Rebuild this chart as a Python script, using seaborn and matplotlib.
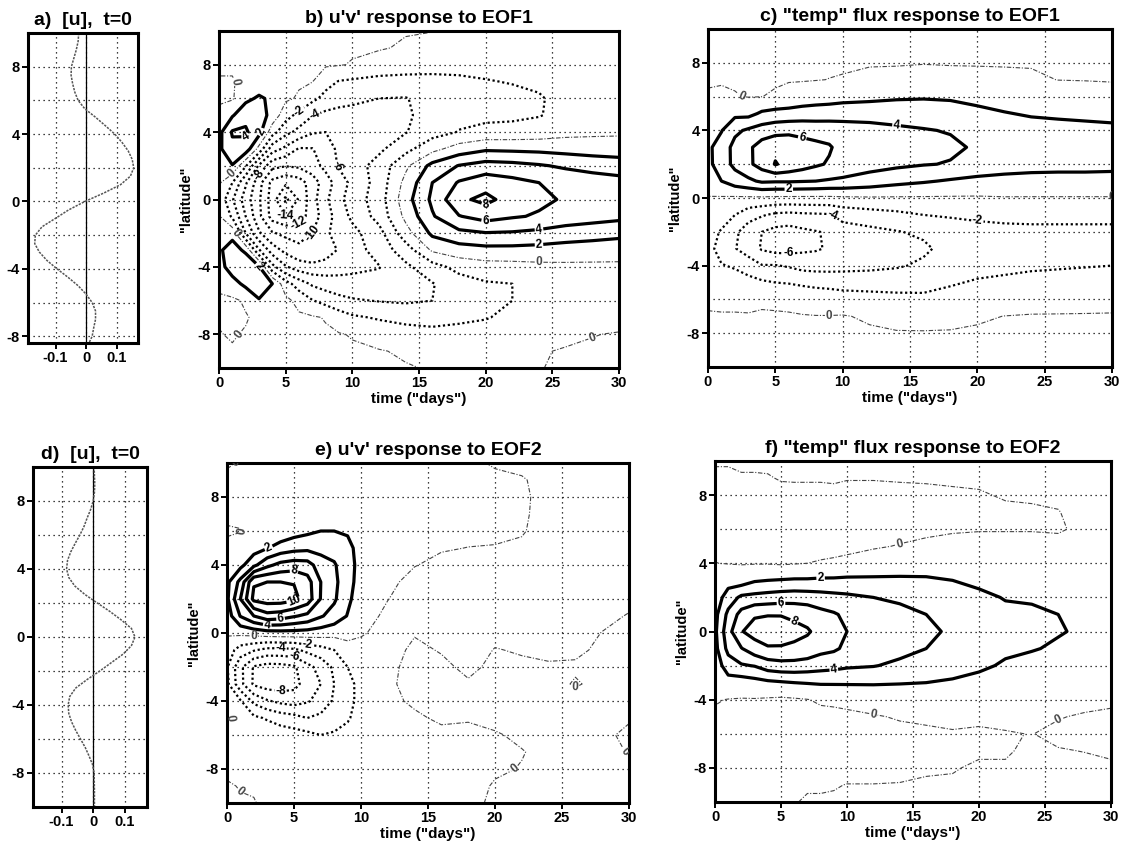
import numpy as np
import matplotlib
matplotlib.use("Agg")
import matplotlib.pyplot as plt
import seaborn as sns

sns.set_theme(style="white")
plt.rcParams["font.family"] = ["Liberation Sans", "DejaVu Sans"]
plt.rcParams["axes.unicode_minus"] = False
plt.rcParams.update({"text.color": "black", "axes.labelcolor": "black",
                     "xtick.color": "black", "ytick.color": "black"})

# ---------------------------------------------------------------- grids
# latitude rows (top to bottom) and time columns ("days") of every field
LAT = [10, 9, 8, 7, 6, 5, 4, 3, 2, 1, 0, -1, -2, -3, -4, -5, -6, -7, -8, -9, -10]
DAYS = [0, 1, 2, 3, 4, 5, 6, 7, 8, 9, 10, 12, 14, 16, 18, 20, 22, 24, 26, 28, 30]

# b) u'v' response to EOF1 -- one row per latitude, one value per day in DAYS
UV_EOF1_ROWS = [
    [0.2, 0.2, 0.2, 0.2, 0.2, 0.2, 0.2, 0.2, 0.2, 0.2, 0.2, 0.15, 0.1, 0.05, -0.3, -0.6, -0.7, -0.7, -0.7, -0.7, -0.7],
    [0.2, 0.2, 0.2, 0.3, 0.3, 0.3, 0.3, 0.3, 0.3, 0.2, 0.2, 0.15, -0.2, -0.8, -1.0, -1.0, -1.0, -0.9, -0.9, -0.8, -0.8],
    [0.2, 0.2, 0.3, 0.4, 0.4, 0.4, 0.3, 0.3, 0.2, 0.1, -0.1, -0.8, -1.3, -1.5, -1.5, -1.4, -1.3, -1.2, -1.1, -1.0, -0.9],
    [-0.1, -0.1, 0.4, 0.7, 0.6, 0.4, 0.2, 0.05, -1.3, -2.1, -2.3, -2.6, -2.5, -2.4, -2.3, -2.1, -1.9, -1.6, -1.2, -1.1, -1.0],
    [-0.3, -0.2, 1.5, 2.3, 1.6, 0.3, -0.2, -1.5, -2.6, -3.2, -3.6, -4.0, -4.1, -3.2, -2.7, -2.6, -2.5, -2.2, -1.3, -1.1, -1.0],
    [0.5, 1.8, 3.4, 3.0, 1.3, -1.2, -2.6, -3.9, -4.5, -4.7, -4.6, -4.4, -4.3, -3.2, -2.6, -2.5, -2.4, -2.1, -1.4, -1.1, -1.0],
    [1.4, 4.2, 4.3, 2.7, -1.2, -3.4, -4.6, -5.8, -6.0, -5.0, -4.6, -4.5, -4.1, -2.8, -1.9, -1.4, -1.3, -1.1, -0.6, -0.4, -0.3],
    [1.6, 3.5, 3.2, -0.7, -5.1, -6.5, -8.2, -8.1, -6.9, -5.6, -5.2, -4.4, -2.6, -0.6, 0.9, 1.7, 1.6, 1.5, 1.3, 1.1, 1.0],
    [0.8, 1.9, -1.8, -6.3, -9.4, -9.9, -9.6, -8.9, -7.4, -5.8, -5.0, -3.2, -0.4, 2.6, 4.1, 4.8, 4.6, 4.2, 3.7, 3.3, 3.0],
    [0.3, -2.0, -5.7, -9.3, -12.6, -13.6, -13.0, -11.0, -9.0, -7.0, -5.5, -3.2, 0.6, 4.0, 6.2, 7.2, 6.6, 6.0, 5.4, 5.0, 4.7],
    [-0.5, -3.8, -7.0, -9.7, -13.0, -16.5, -13.8, -10.8, -8.4, -6.5, -5.1, -3.0, 1.2, 4.4, 7.6, 8.5, 7.2, 6.4, 5.8, 5.4, 5.1],
    [0.2, -2.3, -6.0, -9.5, -12.8, -13.8, -13.0, -11.0, -9.0, -7.0, -5.6, -3.3, 0.5, 3.8, 5.9, 6.8, 6.2, 5.8, 5.1, 4.8, 4.5],
    [0.8, 1.2, -4.0, -7.7, -9.8, -10.5, -10.6, -10.0, -8.3, -7.3, -6.6, -4.7, -0.8, 2.4, 3.5, 3.9, 3.8, 3.5, 3.1, 2.8, 2.5],
    [1.6, 3.1, 1.5, -3.8, -7.0, -8.6, -9.6, -9.9, -9.0, -7.8, -7.0, -5.1, -3.0, 0.3, 1.1, 1.4, 1.4, 1.3, 1.1, 1.0, 0.9],
    [1.2, 3.0, 4.0, 2.2, -3.4, -5.8, -7.0, -7.4, -7.2, -6.8, -6.5, -6.1, -4.4, -2.8, -1.3, -0.8, -0.7, -0.5, -0.4, -0.4, -0.4],
    [0.4, 1.2, 2.5, 2.8, 2.0, -1.2, -3.0, -4.3, -4.9, -5.2, -5.3, -5.2, -4.7, -4.1, -3.0, -2.2, -2.0, -1.2, -0.7, -0.6, -0.5],
    [-0.3, -0.3, 0.2, 1.9, 1.8, 0.5, -0.6, -1.9, -2.7, -3.4, -3.8, -4.1, -4.3, -4.0, -2.8, -2.4, -2.0, -1.3, -0.8, -0.7, -0.6],
    [-0.1, -0.3, -0.1, 0.3, 0.5, 0.5, 0.3, 0.2, -0.1, -1.0, -1.7, -2.2, -2.5, -2.5, -2.3, -2.1, -1.6, -1.1, -0.8, -0.7, -0.6],
    [0.05, -0.1, 0.1, 0.3, 0.4, 0.4, 0.4, 0.3, 0.2, 0.1, -0.1, -0.8, -1.3, -1.6, -1.5, -1.3, -1.0, -0.6, -0.3, -0.05, 0.1],
    [0.1, 0.1, 0.2, 0.3, 0.3, 0.3, 0.3, 0.3, 0.3, 0.3, 0.2, 0.1, -0.2, -0.7, -0.8, -0.7, -0.5, -0.1, 0.1, 0.2, 0.3],
    [0.1, 0.1, 0.1, 0.2, 0.2, 0.2, 0.2, 0.2, 0.2, 0.2, 0.2, 0.2, 0.1, -0.1, -0.4, -0.4, -0.3, -0.05, 0.2, 0.3, 0.3],
]

# c) "temp" flux response to EOF1 -- one column per day, latitudes 10 .. -10
TEMP_EOF1_COLS = [
    [-0.3, -0.3, -0.2, -0.1, 0.1, 0.5, 1.1, 1.6, 1.5, 0.9, -0.1, -0.6, -1.1, -1.4, -1.2, -0.8, -0.2, 0.1, 0.2, 0.2, 0.2],
    [-0.3, -0.3, -0.2, -0.1, 0.2, 1.1, 1.9, 2.9, 3.0, 2.0, -0.2, -1.0, -2.2, -2.7, -1.9, -1.0, -0.3, 0.1, 0.2, 0.2, 0.2],
    [-0.3, -0.3, -0.2, -0.1, 0.05, 1.5, 3.6, 4.6, 4.5, 3.0, -0.3, -2.0, -3.6, -3.9, -2.2, -1.2, -0.3, 0.1, 0.2, 0.2, 0.2],
    [-0.4, -0.4, -0.3, -0.2, -0.05, 1.4, 4.3, 5.6, 5.6, 3.6, -0.3, -3.2, -5.0, -4.9, -3.0, -1.3, -0.4, 0.1, 0.2, 0.2, 0.2],
    [-0.4, -0.4, -0.3, -0.2, -0.02, 2.3, 4.9, 6.9, 6.8, 4.3, -0.3, -3.8, -6.0, -6.2, -3.9, -1.7, -0.3, 0.2, 0.3, 0.3, 0.2],
    [-0.4, -0.4, -0.3, -0.2, 0.2, 2.6, 5.3, 7.6, 8.1, 4.2, -0.4, -4.4, -6.6, -6.7, -3.9, -2.0, -0.4, 0.2, 0.3, 0.3, 0.2],
    [-0.4, -0.4, -0.3, -0.1, 0.5, 2.7, 5.5, 7.4, 7.5, 4.2, -0.4, -4.6, -6.8, -6.7, -4.2, -2.1, -0.6, 0.2, 0.3, 0.3, 0.2],
    [-0.4, -0.3, -0.2, -0.1, 0.8, 2.9, 5.4, 6.8, 6.9, 4.1, -0.4, -4.4, -6.4, -6.4, -4.7, -2.3, -0.8, 0.1, 0.3, 0.3, 0.2],
    [-0.3, -0.3, -0.2, -0.05, 1.0, 3.0, 5.2, 6.5, 6.3, 4.0, -0.4, -4.3, -6.1, -6.2, -4.8, -2.5, -0.9, 0.05, 0.3, 0.3, 0.2],
    [-0.3, -0.3, -0.2, 0.02, 1.1, 3.1, 5.1, 6.2, 5.8, 3.8, -0.4, -4.2, -5.8, -5.8, -4.8, -2.6, -1.0, 0.05, 0.3, 0.3, 0.2],
    [-0.3, -0.3, -0.2, 0.1, 1.3, 3.2, 4.9, 5.3, 5.1, 3.7, -0.3, -3.4, -4.8, -5.0, -4.7, -2.7, -1.2, 0.1, 0.3, 0.3, 0.2],
    [-0.3, -0.3, -0.1, 0.3, 1.5, 3.2, 4.7, 5.0, 4.7, 3.2, -0.2, -2.9, -4.5, -4.8, -4.5, -2.8, -1.3, -0.2, 0.2, 0.3, 0.2],
    [-0.2, -0.2, -0.1, 0.4, 1.7, 3.3, 4.3, 4.7, 4.4, 2.6, -0.2, -2.5, -4.1, -4.6, -4.2, -2.9, -1.4, -0.5, 0.1, 0.2, 0.2],
    [-0.2, -0.2, -0.05, 0.5, 1.8, 3.2, 4.1, 4.5, 4.1, 2.2, -0.2, -2.0, -3.7, -4.3, -3.7, -2.8, -1.5, -0.6, 0.1, 0.2, 0.2],
    [-0.2, -0.2, -0.1, 0.5, 1.7, 3.0, 3.9, 4.3, 3.9, 1.8, -0.2, -1.8, -3.0, -3.4, -3.1, -2.2, -1.3, -0.4, 0.1, 0.2, 0.2],
    [-0.2, -0.2, -0.1, 0.4, 1.4, 2.5, 3.4, 3.8, 3.3, 1.5, -0.2, -1.6, -2.7, -3.0, -2.7, -1.8, -1.0, -0.2, 0.2, 0.2, 0.2],
    [-0.2, -0.2, -0.1, 0.3, 1.1, 2.1, 3.1, 3.5, 3.0, 1.3, -0.1, -1.5, -2.5, -2.8, -2.5, -1.6, -0.9, 0.02, 0.2, 0.2, 0.2],
    [-0.2, -0.2, -0.1, 0.2, 0.9, 1.8, 2.8, 3.2, 2.8, 1.2, -0.1, -1.5, -2.4, -2.7, -2.3, -1.4, -0.7, 0.1, 0.2, 0.2, 0.2],
    [-0.2, -0.2, -0.2, -0.02, 0.8, 1.7, 2.6, 3.0, 2.7, 1.2, -0.1, -1.5, -2.4, -2.6, -2.2, -1.3, -0.6, 0.1, 0.2, 0.2, 0.2],
    [-0.2, -0.2, -0.2, -0.05, 0.7, 1.6, 2.5, 3.0, 2.7, 1.2, -0.1, -1.5, -2.4, -2.6, -2.1, -1.2, -0.5, 0.1, 0.2, 0.2, 0.2],
    [-0.2, -0.2, -0.2, -0.1, 0.6, 1.5, 2.4, 2.9, 2.6, 1.2, -0.1, -1.5, -2.4, -2.5, -2.0, -1.1, -0.4, 0.1, 0.2, 0.2, 0.2],
]

# e) u'v' response to EOF2 -- one column per day, latitudes 10 .. -10
UV_EOF2_COLS = [
    [-0.1, 0.2, 0.3, 0.2, -0.1, 0.2, 0.7, 1.5, 1.6, 0.9, 0.2, -0.9, -1.8, -1.5, -0.4, 0.1, -0.2, -0.3, -0.2, 0.1, 0.2],
    [0.05, 0.3, 0.4, 0.3, -0.05, 0.6, 1.4, 4.6, 6.0, 4.1, 0.5, -2.9, -5.5, -5.4, -1.8, -0.3, -0.4, -0.4, -0.3, -0.05, 0.1],
    [0.3, 0.4, 0.4, 0.4, 0.4, 1.1, 3.5, 9.8, 10.5, 6.0, 0.8, -3.8, -8.2, -8.3, -4.5, -1.6, -0.5, -0.5, -0.4, -0.1, 0.05],
    [0.3, 0.4, 0.4, 0.4, 0.5, 1.9, 5.5, 10.0, 11.0, 7.3, 1.2, -4.6, -8.8, -9.0, -5.8, -2.2, -0.7, -0.5, -0.5, -0.3, -0.2],
    [0.3, 0.4, 0.4, 0.5, 0.6, 2.8, 6.6, 10.0, 11.0, 7.0, 1.3, -4.6, -8.7, -9.1, -6.5, -2.9, -0.9, -0.5, -0.5, -0.4, -0.3],
    [0.3, 0.4, 0.4, 0.5, 1.2, 3.3, 7.0, 9.9, 10.5, 6.2, 1.3, -4.4, -8.3, -8.6, -6.9, -3.3, -1.2, -0.6, -0.5, -0.4, -0.3],
    [0.3, 0.4, 0.5, 0.6, 1.6, 3.5, 6.8, 8.8, 9.1, 5.5, 1.2, -3.5, -6.6, -7.2, -6.2, -4.0, -1.5, -0.7, -0.5, -0.4, -0.3],
    [0.3, 0.4, 0.5, 0.7, 2.0, 3.3, 5.0, 6.0, 5.9, 4.2, 1.0, -2.8, -5.3, -6.0, -5.3, -3.5, -2.0, -0.8, -0.5, -0.4, -0.3],
    [0.3, 0.4, 0.5, 0.8, 2.0, 3.2, 4.2, 4.5, 4.3, 3.2, 0.7, -2.0, -3.6, -4.0, -3.7, -2.8, -1.8, -0.8, -0.5, -0.4, -0.3],
    [0.3, 0.4, 0.5, 0.8, 1.8, 2.5, 2.8, 2.7, 2.4, 1.9, 0.6, -0.7, -2.0, -2.7, -2.7, -2.2, -1.4, -0.8, -0.5, -0.4, -0.3],
    [0.3, 0.4, 0.5, 0.8, 1.1, 1.3, 1.3, 1.2, 1.0, 0.6, 0.15, -0.5, -1.0, -1.3, -1.3, -1.2, -0.9, -0.6, -0.5, -0.4, -0.3],
    [0.3, 0.4, 0.5, 0.6, 0.6, 0.6, 0.5, 0.3, 0.03, -0.3, -0.5, -0.6, -0.3, -0.2, -0.3, -0.6, -0.5, -0.5, -0.4, -0.4, -0.3],
    [0.3, 0.4, 0.5, 0.5, 0.5, 0.4, 0.05, -0.4, -0.6, -0.5, -0.1, 0.3, 0.4, 0.4, 0.2, -0.2, -0.5, -0.5, -0.4, -0.4, -0.3],
    [0.3, 0.4, 0.5, 0.5, 0.4, 0.1, -0.3, -0.6, -0.6, -0.5, -0.4, -0.1, 0.3, 0.4, 0.4, 0.2, -0.3, -0.5, -0.5, -0.4, -0.3],
    [0.2, 0.3, 0.4, 0.4, 0.3, -0.02, -0.4, -0.6, -0.6, -0.5, -0.5, -0.5, -0.3, 0.15, 0.3, 0.1, -0.3, -0.5, -0.5, -0.4, -0.3],
    [-0.1, 0.2, 0.3, 0.3, 0.2, -0.05, -0.4, -0.6, -0.6, -0.5, -0.3, 0.05, 0.3, 0.4, 0.4, 0.3, -0.1, -0.3, -0.15, 0.1, 0.2],
    [-0.3, 0.1, 0.2, 0.2, 0.1, -0.2, -0.5, -0.6, -0.6, -0.5, -0.3, -0.1, 0.2, 0.4, 0.4, 0.4, 0.2, -0.05, 0.05, 0.2, 0.3],
    [-0.4, -0.4, -0.4, -0.5, -0.5, -0.5, -0.6, -0.6, -0.5, -0.4, -0.3, -0.2, 0.1, 0.4, 0.4, 0.4, 0.4, 0.3, 0.3, 0.3, 0.3],
    [-0.4, -0.4, -0.5, -0.5, -0.5, -0.5, -0.5, -0.5, -0.5, -0.4, -0.3, -0.2, 0.15, -0.1, 0.4, 0.4, 0.4, 0.3, 0.3, 0.3, 0.3],
    [-0.4, -0.4, -0.4, -0.5, -0.5, -0.5, -0.5, -0.4, -0.3, -0.2, 0.02, 0.2, 0.3, 0.3, 0.3, 0.3, 0.2, 0.3, 0.3, 0.3, 0.3],
    [-0.4, -0.4, -0.4, -0.4, -0.4, -0.4, -0.4, -0.3, -0.2, 0.05, 0.2, 0.3, 0.3, 0.3, 0.3, 0.1, -0.2, -0.05, 0.2, 0.3, 0.3],
]

# f) "temp" flux response to EOF2 -- one column per day, latitudes 10 .. -10
TEMP_EOF2_COLS = [
    [0.1, -0.2, -0.3, -0.3, -0.3, -0.2, 0.02, 0.4, 0.9, 1.4, 1.6, 1.4, 0.9, 0.5, 0.1, -0.2, -0.3, -0.3, -0.3, -0.2, -0.2],
    [0.1, -0.2, -0.3, -0.3, -0.3, -0.2, -0.05, 1.2, 2.9, 4.5, 5.3, 4.6, 3.0, 1.2, -0.05, -0.2, -0.3, -0.3, -0.3, -0.2, -0.2],
    [0.2, -0.1, -0.3, -0.3, -0.3, -0.2, -0.1, 1.0, 4.4, 6.7, 7.9, 5.9, 3.8, 1.0, -0.1, -0.3, -0.3, -0.3, -0.3, -0.2, -0.2],
    [0.2, -0.1, -0.3, -0.3, -0.3, -0.2, -0.1, 1.8, 4.6, 7.8, 8.7, 7.2, 4.1, 1.3, -0.1, -0.3, -0.3, -0.3, -0.3, -0.3, -0.2],
    [0.3, -0.1, -0.4, -0.4, -0.4, -0.3, -0.1, 2.0, 4.8, 7.9, 9.1, 7.8, 5.0, 1.6, -0.2, -0.4, -0.4, -0.3, -0.3, -0.3, -0.2],
    [0.3, 0.1, -0.4, -0.5, -0.5, -0.4, -0.2, 2.1, 5.0, 7.9, 9.0, 7.8, 5.3, 1.8, -0.3, -0.4, -0.4, -0.4, -0.3, -0.3, -0.2],
    [0.3, 0.1, -0.3, -0.5, -0.5, -0.4, -0.1, 2.2, 5.1, 7.6, 8.6, 7.6, 5.3, 2.0, -0.2, -0.4, -0.4, -0.4, -0.3, -0.2, -0.05],
    [0.3, 0.1, -0.3, -0.5, -0.5, -0.4, 0.0, 2.2, 5.0, 7.3, 8.2, 7.3, 5.1, 2.1, -0.05, -0.4, -0.5, -0.4, -0.3, -0.1, 0.1],
    [0.3, 0.1, -0.3, -0.5, -0.5, -0.4, 0.1, 2.3, 4.8, 6.6, 7.4, 6.6, 4.8, 2.2, 0.2, -0.4, -0.5, -0.5, -0.3, -0.1, 0.1],
    [0.3, 0.1, -0.2, -0.5, -0.5, -0.4, 0.2, 2.3, 4.6, 6.2, 6.8, 6.3, 4.6, 2.2, 0.3, -0.4, -0.5, -0.5, -0.3, -0.05, 0.1],
    [0.3, 0.05, -0.3, -0.5, -0.5, -0.3, 0.3, 2.4, 4.4, 5.6, 6.0, 5.6, 4.3, 2.2, 0.4, -0.3, -0.5, -0.5, -0.3, 0.02, 0.2],
    [0.3, 0.05, -0.3, -0.4, -0.4, -0.1, 0.5, 2.4, 4.0, 5.0, 5.3, 5.0, 4.1, 2.2, 0.6, -0.1, -0.4, -0.4, -0.3, 0.02, 0.2],
    [0.3, 0.1, -0.3, -0.4, -0.3, 0.05, 0.7, 2.4, 3.7, 4.5, 4.9, 4.6, 3.6, 2.1, 0.8, 0.1, -0.3, -0.4, -0.3, 0.05, 0.2],
    [0.3, 0.1, -0.2, -0.3, -0.2, 0.2, 0.9, 2.3, 3.4, 4.0, 4.4, 4.0, 3.2, 2.0, 0.9, 0.2, -0.2, -0.3, -0.1, 0.1, 0.2],
    [0.3, 0.1, -0.1, -0.3, -0.1, 0.3, 0.9, 2.0, 3.0, 3.5, 3.7, 3.4, 2.7, 1.8, 0.9, 0.3, -0.1, -0.3, -0.05, 0.1, 0.2],
    [0.3, 0.1, -0.05, -0.2, -0.05, 0.3, 0.8, 1.6, 2.4, 3.0, 3.3, 3.0, 2.3, 1.5, 0.8, 0.2, -0.15, -0.1, 0.1, 0.2, 0.2],
    [0.3, 0.2, 0.05, -0.1, -0.05, 0.3, 0.7, 1.3, 1.9, 2.4, 2.6, 2.3, 1.8, 1.2, 0.6, 0.2, -0.05, -0.05, 0.05, 0.2, 0.2],
    [0.3, 0.2, 0.1, -0.1, -0.05, 0.3, 0.6, 1.1, 1.8, 2.3, 2.4, 2.1, 1.5, 1.0, 0.5, 0.2, 0.02, 0.1, 0.2, 0.2, 0.2],
    [0.3, 0.2, 0.1, -0.02, -0.1, 0.3, 0.5, 0.9, 1.5, 2.0, 2.1, 1.8, 1.3, 0.8, 0.4, 0.05, -0.2, 0.05, 0.2, 0.2, 0.2],
    [0.3, 0.2, 0.2, 0.2, 0.2, 0.3, 0.5, 0.8, 1.3, 1.7, 1.8, 1.5, 1.1, 0.7, 0.3, -0.1, -0.3, -0.02, 0.2, 0.2, 0.2],
    [0.3, 0.2, 0.2, 0.2, 0.2, 0.3, 0.5, 0.7, 1.2, 1.6, 1.7, 1.4, 1.0, 0.6, 0.2, -0.2, -0.3, -0.1, 0.1, 0.2, 0.2],
]

# a) initial zonal-mean wind [u] for EOF1
U_EOF1_LAT = [10, 9.5, 9, 8.5, 8, 7.5, 7, 6.5, 6, 5.5, 5, 4.5, 4, 3.5, 3, 2.5, 2, 1.5, 1, 0.5, 0,
              -0.5, -1, -1.5, -2, -2.5, -3, -3.5, -4, -4.5, -5, -5.5, -6, -6.5, -7, -7.5, -8, -8.5, -9]
U_EOF1 = [-0.024, -0.026, -0.032, -0.040, -0.048, -0.049, -0.044, -0.037, -0.026, -0.004, 0.031,
          0.063, 0.094, 0.118, 0.138, 0.151, 0.156, 0.145, 0.113, 0.058, -0.004, -0.057, -0.100,
          -0.144, -0.166, -0.168, -0.153, -0.128, -0.095, -0.059, -0.026, 0.000, 0.020, 0.031,
          0.031, 0.025, 0.020, 0.007, 0.003]

# d) initial zonal-mean wind [u] for EOF2
U_EOF2_LAT = [10, 9, 8.5, 8, 7.5, 7, 6.5, 6, 5.5, 5, 4.5, 4, 3.5, 3, 2.5, 2, 1.5, 1, 0.5, 0,
              -0.5, -1, -1.5, -2, -2.5, -3, -3.5, -4, -4.5, -5, -5.5, -6, -6.5, -7, -7.5, -8, -9, -10]
U_EOF2 = [0.003, 0.005, 0.004, 0.000, -0.008, -0.019, -0.029, -0.042, -0.057, -0.071, -0.081,
          -0.084, -0.077, -0.058, -0.026, 0.013, 0.053, 0.089, 0.121, 0.132, 0.121, 0.095, 0.058,
          0.021, -0.019, -0.055, -0.074, -0.079, -0.077, -0.068, -0.055, -0.040, -0.025, -0.013,
          -0.002, 0.003, 0.004, 0.004]

TITLES = ["a)  [u],  t=0", "b) u'v' response to EOF1", 'c) "temp" flux response to EOF1',
          "d)  [u],  t=0", "e) u'v' response to EOF2", 'f) "temp" flux response to EOF2']

# ---------------------------------------------------------------- drawing
W, H = 1125, 844
TITLE_FS = 14
TICK_FS = 10.5
XLABEL_FS = 11
YLABEL_FS = 10.5
CLABEL_FS = 8.5
GRID_STYLE = dict(color="black", linestyle=(0, (1, 3)), linewidth=0.9)


def rect(x0, y0, x1, y1):
    return [x0 / W, 1 - y1 / H, (x1 - x0) / W, (y1 - y0) / H]


def style_axes(ax):
    for s in ax.spines.values():
        s.set_visible(True)
        s.set_linewidth(2.2)
        s.set_color("black")
    ax.tick_params(axis="both", which="major", direction="out", length=4, width=1.4,
                   labelsize=TICK_FS, pad=2, colors="black", bottom=True, left=True)
    ax.tick_params(axis="both", which="minor", length=0, bottom=True, left=True)
    for lab in ax.get_xticklabels() + ax.get_yticklabels():
        lab.set_fontweight("bold")
    ax.set_facecolor("white")


def lat_axis(ax, lo, hi):
    ax.set_ylim(lo, hi)
    ax.set_yticks([-8, -4, 0, 4, 8])
    ax.set_yticklabels(["-8", "-4", "0", "4", "8"])
    ax.set_yticks([-6, -2, 2, 6], minor=True)
    ax.grid(True, which="both", axis="y", **GRID_STYLE)


def profile_panel(ax, u, lat, title, ylo):
    sns.lineplot(x=u, y=lat, orient="y", sort=False, estimator=None, ax=ax,
                 color="#555555", linewidth=1.1, linestyle=(0, (1.5, 0.8)))
    ax.axvline(0, color="black", linewidth=0.9, zorder=1)
    ax.set_xlim(-0.19, 0.17)
    ax.set_xticks([-0.1, 0, 0.1])
    ax.set_xticklabels(["-0.1", "0", "0.1"])
    ax.grid(True, which="major", axis="x", **GRID_STYLE)
    lat_axis(ax, ylo, 10)
    ax.set_xlabel("")
    ax.set_ylabel("")
    ax.set_title(title, fontsize=TITLE_FS, fontweight="bold", pad=6, color="black")
    style_axes(ax)


def field_panel(ax, field, levels, title):
    z = np.array(field)
    neg = [v for v in levels if v < 0]
    pos = [v for v in levels if v > 0]
    sets = []
    if neg:
        sets.append(ax.contour(DAYS, LAT, z, levels=neg, colors="black",
                               linewidths=1.6, linestyles=[(0, (1, 1.2))]))
    sets.append(ax.contour(DAYS, LAT, z, levels=[0], colors="#444444",
                           linewidths=0.8, linestyles=[(0, (4, 1.5, 1, 1.5))]))
    if pos:
        sets.append(ax.contour(DAYS, LAT, z, levels=pos, colors="black",
                               linewidths=2.3, linestyles="solid"))
    for cs in sets:
        for t in ax.clabel(cs, fmt="%d", fontsize=CLABEL_FS, inline=True, inline_spacing=1):
            t.set_fontweight("bold")
    ax.set_xlim(0, 30)
    ax.set_xticks([0, 5, 10, 15, 20, 25, 30])
    ax.grid(True, which="major", axis="x", **GRID_STYLE)
    lat_axis(ax, -10, 10)
    ax.set_xlabel('time ("days")', fontsize=XLABEL_FS, fontweight="bold", labelpad=1)
    ax.set_ylabel('"latitude"', fontsize=YLABEL_FS, fontweight="bold", labelpad=3)
    ax.set_title(title, fontsize=TITLE_FS, fontweight="bold", pad=6, color="black")
    style_axes(ax)


fig = plt.figure(figsize=(W / 100, H / 100), dpi=100)
fig.patch.set_facecolor("white")

ax_a = fig.add_axes(rect(28, 33, 138, 343))
ax_b = fig.add_axes(rect(219, 31, 619, 368))
ax_c = fig.add_axes(rect(708, 29, 1112, 367))
ax_d = fig.add_axes(rect(33, 467, 147, 807))
ax_e = fig.add_axes(rect(227, 463, 629, 803))
ax_f = fig.add_axes(rect(715, 461, 1111, 802))

profile_panel(ax_a, U_EOF1, U_EOF1_LAT, TITLES[0], -8.4)
profile_panel(ax_d, U_EOF2, U_EOF2_LAT, TITLES[3], -10)

field_panel(ax_b, UV_EOF1_ROWS, [-16, -14, -12, -10, -8, -6, -4, -2, 2, 4, 6, 8], TITLES[1])
field_panel(ax_c, np.array(TEMP_EOF1_COLS).T, [-6, -4, -2, 2, 4, 6, 8], TITLES[2])
field_panel(ax_e, np.array(UV_EOF2_COLS).T, [-8, -6, -4, -2, 2, 4, 6, 8, 10], TITLES[4])
field_panel(ax_f, np.array(TEMP_EOF2_COLS).T, [2, 4, 6, 8], TITLES[5])

fig.savefig("out.png", dpi=100, facecolor="white")
